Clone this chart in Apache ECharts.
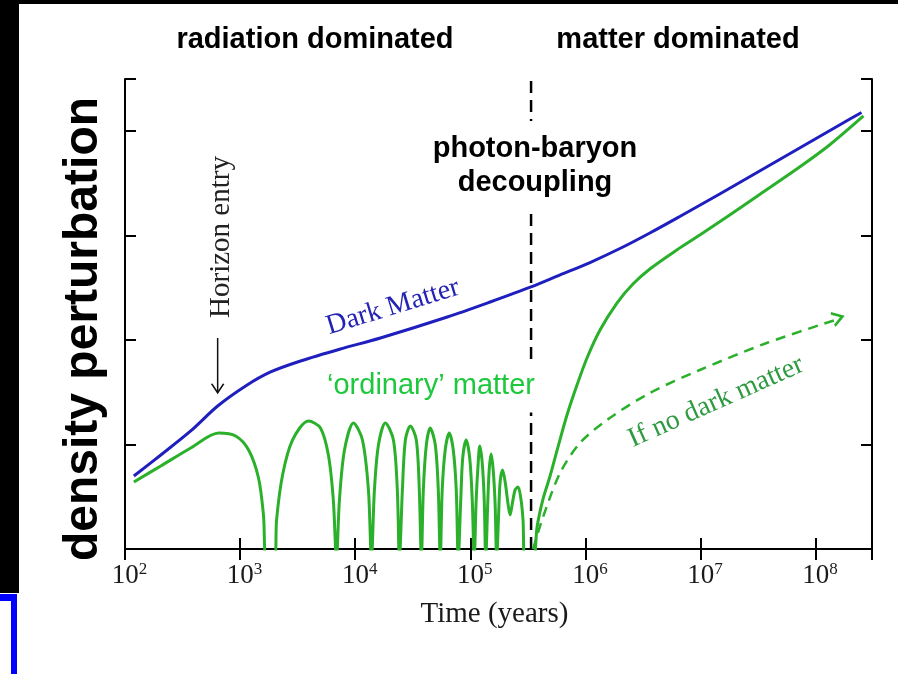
<!DOCTYPE html>
<html>
<head>
<meta charset="utf-8">
<script src="https://cdn.jsdelivr.net/npm/echarts@6/dist/echarts.min.js"></script>
<style>
  html, body { margin: 0; padding: 0; background: #fff; }
  #chart { width: 898px; height: 674px; }
</style>
</head>
<body>
<div id="chart"></div>
<script>
// x = log10(time in years), y = perturbation amplitude on the plot's (unlabelled) log scale
const xTickExponents = [2, 3, 4, 5, 6, 7, 8];

const darkMatter = [
  [2.077, 0.699], [2.311, 0.900], [2.571, 1.130], [2.805, 1.369], [3.048, 1.561],
  [3.265, 1.695], [3.525, 1.800], [3.872, 1.915], [4.219, 2.020], [4.800, 2.221],
  [5.173, 2.365], [5.528, 2.509], [5.780, 2.624], [6.040, 2.743], [6.300, 2.877],
  [6.560, 3.026], [6.820, 3.184], [7.167, 3.399], [7.514, 3.619], [7.861, 3.839],
  [8.208, 4.060], [8.399, 4.179]
];

// baryons: acoustic oscillations until decoupling, then falling into the dark matter wells
const ordinaryMatter = [
  [2.077, 0.642], [2.311, 0.795], [2.571, 0.967], [2.814, 1.111], [2.961, 1.082],
  [3.074, 0.948], [3.160, 0.680], [3.203, 0.326], [3.230, -0.105], [3.300, -0.105],
  [3.317, 0.278], [3.369, 0.709], [3.456, 1.044], [3.594, 1.226], [3.698, 1.159],
  [3.767, 0.900], [3.810, 0.469], [3.837, -0.105],
  [3.863, 0.469], [3.907, 0.948], [3.985, 1.206], [4.063, 1.044], [4.115, 0.565], [4.141, -0.105],
  [4.167, 0.565], [4.202, 0.996], [4.262, 1.206], [4.332, 1.044], [4.366, 0.565], [4.384, -0.105],
  [4.410, 0.565], [4.436, 1.044], [4.479, 1.178], [4.531, 1.044], [4.557, 0.565], [4.575, -0.105],
  [4.592, 0.565], [4.618, 0.996], [4.652, 1.159], [4.696, 0.996], [4.722, 0.565], [4.739, -0.105],
  [4.756, 0.565], [4.782, 0.948], [4.817, 1.111], [4.852, 0.948], [4.878, 0.565], [4.895, -0.105],
  [4.917, 0.469], [4.934, 0.871], [4.964, 1.044], [4.995, 0.871], [5.017, 0.469], [5.034, -0.105],
  [5.051, 0.469], [5.069, 0.833], [5.082, 0.986], [5.103, 0.833], [5.121, 0.469], [5.134, -0.105],
  [5.151, 0.421], [5.164, 0.756], [5.181, 0.910], [5.199, 0.756], [5.216, 0.421], [5.229, -0.105],
  [5.246, 0.326], [5.259, 0.642], [5.281, 0.756], [5.303, 0.642], [5.329, 0.421], [5.346, 0.326],
  [5.363, 0.421], [5.389, 0.565], [5.415, 0.594], [5.441, 0.469], [5.458, 0.278], [5.476, -0.105],
  [5.546, -0.105], [5.580, 0.211], [5.632, 0.479], [5.693, 0.699], [5.762, 0.977],
  [5.840, 1.283], [5.927, 1.570], [6.014, 1.829], [6.127, 2.097], [6.274, 2.355],
  [6.413, 2.537], [6.560, 2.681], [6.794, 2.863], [6.994, 3.006], [7.254, 3.198],
  [7.514, 3.394], [7.861, 3.657], [8.121, 3.868], [8.416, 4.146]
];

// growth the baryons would manage on their own
const noDarkMatter = [
  [5.545, 0.000], [5.632, 0.306], [5.780, 0.728], [5.953, 1.015], [6.187, 1.235],
  [6.560, 1.494], [6.994, 1.714], [7.575, 1.972], [8.226, 2.212]
];

const decouplingLogT = 5.528;
const horizonEntry = [[2.805, 2.02], [2.805, 1.50]];

const blue = '#1f1fbf';
const green = '#2bb02b';
const sans = '"Liberation Sans", Arial, sans-serif';
const serif = '"Liberation Serif", "Times New Roman", serif';

const chart = echarts.init(document.getElementById('chart'));

const axisLineStyle = { color: '#000', width: 2 };
const tickStyle = { show: true, inside: true, length: 11, lineStyle: { color: '#000', width: 2 } };

const xBase = {
  type: 'value', min: 2, max: 8.49, interval: 1,
  axisLine: { show: true, lineStyle: axisLineStyle },
  axisTick: tickStyle,
  splitLine: { show: false }
};
const yBase = {
  type: 'value', min: 0, max: 4.5, interval: 1,
  axisLine: { show: true, lineStyle: axisLineStyle },
  axisTick: tickStyle,
  axisLabel: { show: false },
  splitLine: { show: false }
};

const lastNoDM = noDarkMatter.length - 1;

chart.setOption({
  animation: false,
  backgroundColor: '#fff',
  grid: { left: 125, right: 26, top: 79, bottom: 125, containLabel: false },
  xAxis: [
    Object.assign({}, xBase, {
      position: 'bottom',
      name: 'Time (years)', nameLocation: 'middle', nameGap: 51,
      nameTextStyle: { fontFamily: serif, fontSize: 29, color: '#1a1a1a', padding: [0, 8, 0, 0] },
      axisLabel: {
        margin: 12, showMaxLabel: false, padding: [0, 0, 0, 9],
        formatter: v => xTickExponents.includes(v) ? '{b|10}{s|' + v + '}' : '',
        rich: {
          b: { fontFamily: serif, fontSize: 27, color: '#1a1a1a', lineHeight: 30 },
          s: { fontFamily: serif, fontSize: 17, color: '#1a1a1a', verticalAlign: 'top', lineHeight: 20 }
        }
      }
    }),
    Object.assign({}, xBase, { position: 'top', axisLabel: { show: false } })
  ],
  yAxis: [
    Object.assign({}, yBase, {
      position: 'left',
      name: 'density perturbation', nameLocation: 'middle', nameGap: 17, nameRotate: 90,
      nameTextStyle: { fontFamily: sans, fontWeight: 'bold', fontSize: 48, color: '#000', padding: [0, 30, 0, 0] }
    }),
    Object.assign({}, yBase, { position: 'right' })
  ],
  series: [
    {
      name: 'decoupling', type: 'line', symbol: 'none', z: 1,
      data: [[decouplingLogT, 0], [decouplingLogT, 4.5]],
      lineStyle: { color: '#000', width: 2.5, type: [12, 7] }
    },
    {
      name: 'Dark Matter', type: 'line', symbol: 'none', smooth: 0.3, z: 3,
      data: darkMatter,
      lineStyle: { color: blue, width: 3 }
    },
    {
      name: 'ordinary matter', type: 'line', symbol: 'none', smooth: 0.3, z: 4,
      data: ordinaryMatter,
      lineStyle: { color: green, width: 3 }
    },
    {
      name: 'If no dark matter', type: 'line', smooth: 0.3, z: 4, showSymbol: true, symbol: 'none',
      data: noDarkMatter.map((p, i) => i === lastNoDM
        ? { value: p, symbol: 'path://M0,0 L9,6 L0,12', symbolSize: [10, 13], symbolRotate: 18, symbolOffset: [-4, 0] }
        : { value: p }),
      itemStyle: { color: 'none', borderColor: green, borderWidth: 2.5 },
      lineStyle: { color: green, width: 2.5, type: [10, 7] }
    },
    {
      name: 'Horizon entry', type: 'line', z: 4, showSymbol: true, symbol: 'none',
      data: horizonEntry.map((p, i) => i === 1
        ? { value: p, symbol: 'path://M0,0 L6,9 L12,0', symbolSize: [12, 9], symbolOffset: [0, -4] }
        : { value: p }),
      itemStyle: { color: 'none', borderColor: '#111', borderWidth: 1.5 },
      lineStyle: { color: '#111', width: 1.5 }
    }
  ],
  graphic: [
    // slide frame
    { type: 'rect', shape: { x: 0, y: 0, width: 898, height: 4 }, style: { fill: '#000' }, z: 50 },
    { type: 'rect', shape: { x: 0, y: 0, width: 19, height: 593 }, style: { fill: '#000' }, z: 50 },
    { type: 'rect', shape: { x: 0, y: 594, width: 17, height: 7 }, style: { fill: '#0000ff' }, z: 50 },
    { type: 'rect', shape: { x: 11, y: 594, width: 6, height: 80 }, style: { fill: '#0000ff' }, z: 50 },
    // era headings
    { type: 'text', x: 315, y: 40, z: 50,
      style: { text: 'radiation dominated', fontFamily: sans, fontWeight: 'bold', fontSize: 29, fill: '#000', align: 'center', verticalAlign: 'middle' } },
    { type: 'text', x: 678, y: 40, z: 50,
      style: { text: 'matter dominated', fontFamily: sans, fontWeight: 'bold', fontSize: 29, fill: '#000', align: 'center', verticalAlign: 'middle' } },
    { type: 'text', x: 535, y: 166, z: 50,
      style: { text: 'photon-baryon\ndecoupling', fontFamily: sans, fontWeight: 'bold', fontSize: 29, lineHeight: 34, fill: '#000', align: 'center', verticalAlign: 'middle', backgroundColor: '#fff', padding: [18, 4, 4, 4] } },
    { type: 'text', x: 431, y: 386, z: 50,
      style: { text: '\u2018ordinary\u2019 matter', fontFamily: sans, fontSize: 29, fill: '#1ec83c', align: 'center', verticalAlign: 'middle', backgroundColor: '#fff', padding: [12, 2, 12, 2] } },
    { type: 'text', x: 393, y: 307, z: 50, rotation: 17 * Math.PI / 180,
      style: { text: 'Dark Matter', fontFamily: serif, fontSize: 28, fill: '#2323b4', align: 'center', verticalAlign: 'middle' } },
    { type: 'text', x: 221, y: 237, z: 50, rotation: Math.PI / 2,
      style: { text: 'Horizon entry', fontFamily: serif, fontSize: 29, fill: '#222', align: 'center', verticalAlign: 'middle' } },
    { type: 'text', x: 716, y: 402, z: 50, rotation: 24 * Math.PI / 180,
      style: { text: 'If no dark matter', fontFamily: serif, fontSize: 28, fill: '#2f9a42', align: 'center', verticalAlign: 'middle' } }
  ]
});
</script>
</body>
</html>
